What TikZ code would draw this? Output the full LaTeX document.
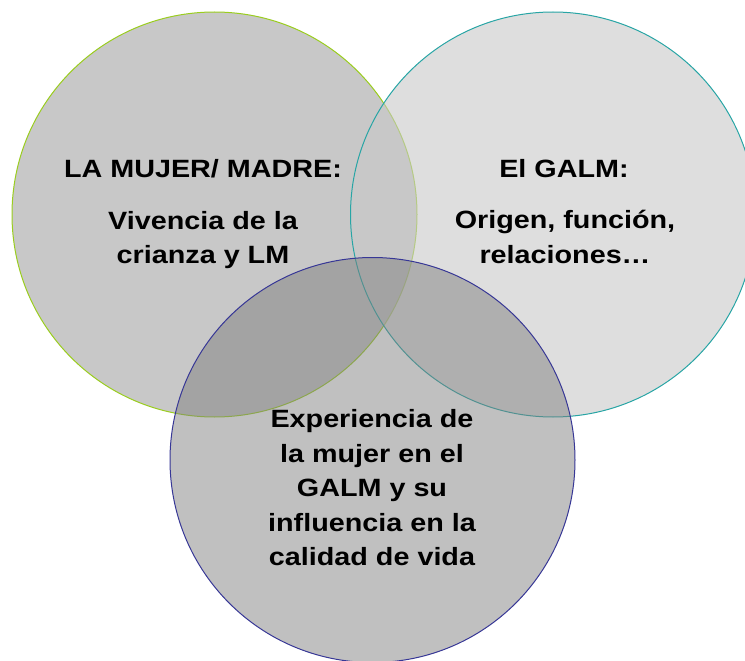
\documentclass[tikz,border=0pt]{standalone}
\usepackage{fontspec}
\setmainfont{Liberation Sans}[FakeStretch=1.15]

\definecolor{mujerline}{RGB}{154,205,30}
\definecolor{galmline}{RGB}{40,165,165}
\definecolor{expline}{RGB}{55,55,150}
\definecolor{mujerfill}{RGB}{200,200,200}
\definecolor{galmfill}{RGB}{200,200,200}
\definecolor{expfill}{RGB}{126,126,126}

\tikzset{
    venn/.style={circle, minimum size=405pt, inner sep=0pt, line width=1pt},
    txt/.style={font=\bfseries\fontsize{25}{34.5}\selectfont, align=center, inner sep=0pt}
}

\begin{document}
\begin{tikzpicture}[x=1pt, y=-1pt]
    \useasboundingbox (0,0) rectangle (745,661);
    \clip (0,0) rectangle (745,661);

    \node[venn, draw=mujerline, fill=mujerfill] (mujer) at (214.5,214.5) {};
    \node[venn, draw=galmline, fill=galmfill, fill opacity=0.6] (galm) at (553,214.5) {};
    \node[venn, draw=expline, fill=expfill, fill opacity=0.49] (exp) at (372.5,460) {};

    \node[txt, anchor=base] (mujert) at (203,177) {LA MUJER/ MADRE:};
    \node[txt] (mujerb) at (203,240) {Vivencia de la\\crianza y LM};

    \node[txt, anchor=base] (galmt) at (564,177) {El GALM:};
    \node[txt] (galmb) at (565,237) {Origen, función,\\relaciones…};

    \node[txt] (expb) at (372,488) {Experiencia de\\la mujer en el\\GALM y su\\influencia en la\\calidad de vida};
\end{tikzpicture}
\end{document}
